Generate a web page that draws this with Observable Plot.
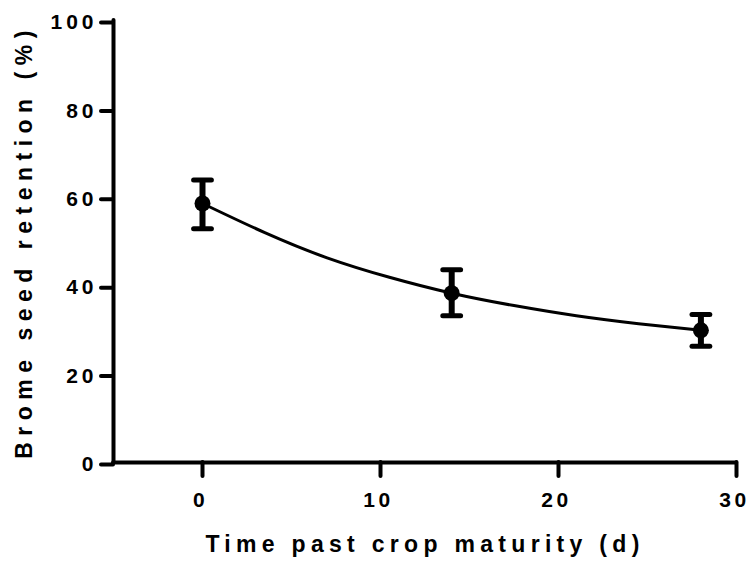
<!DOCTYPE html>
<html>
<head>
<meta charset="utf-8">
<script src="https://cdn.jsdelivr.net/npm/d3@7"></script>
<script src="https://cdn.jsdelivr.net/npm/@observablehq/plot@0.6"></script>
<style>
  html, body { margin: 0; padding: 0; background: white; }
</style>
</head>
<body>
<div id="chart"></div>
<script>
// Observed means and error bars
const days = [0, 14, 28];
const retention = [58.6, 38.3, 29.9];
const errLow = [52.9, 33.2, 26.3];
const errHigh = [63.9, 43.6, 33.5];

// Fitted decay curve
const curveDays = [0, 3.5, 7, 10.5, 14, 17.5, 21, 24.5, 28];
const curveRetention = [58.6, 52.0, 46.3, 41.9, 38.3, 35.5, 33.2, 31.4, 29.9];

const xTicks = [0, 10, 20, 30];
const yTicks = [0, 20, 40, 60, 80, 100];
const xLabel = "Time past crop maturity (d)";
const yLabel = "Brome seed retention (%)";

const pts = days.map((d, i) => ({x: d, y: retention[i], lo: errLow[i], hi: errHigh[i]}));
const fit = curveDays.map((d, i) => ({x: d, y: curveRetention[i]}));
const capHalf = 0.5;
const caps = pts.flatMap(p => [{x: p.x, y: p.lo}, {x: p.x, y: p.hi}]);

const chart = Plot.plot({
  width: 750,
  height: 565,
  marginLeft: 113,
  marginRight: 14,
  marginTop: 20,
  marginBottom: 103,
  x: {domain: [-5, 30]},
  y: {domain: [0, 100]},
  style: {fontFamily: "'Liberation Sans', Arial, sans-serif", color: "black", background: "white"},
  marks: [
    Plot.axisX({ticks: xTicks, tickSize: 14, strokeWidth: 4, strokeLinecap: "round", tickPadding: 16,
      fontSize: 21, fontWeight: "bold", label: null}),
    Plot.axisY({ticks: yTicks, tickSize: 12, strokeWidth: 4, strokeLinecap: "round", tickPadding: 4,
      fontSize: 21, fontWeight: "bold", label: null, dy: 2}),
    Plot.ruleY([0], {strokeWidth: 4, strokeLinecap: "round"}),
    Plot.ruleX([-5], {y1: 0, y2: 100, strokeWidth: 4, strokeLinecap: "round"}),
    Plot.line(fit, {x: "x", y: "y", curve: "natural", strokeWidth: 3}),
    Plot.ruleX(pts, {x: "x", y1: "lo", y2: "hi", strokeWidth: 6}),
    Plot.link(caps, {x1: d => d.x - capHalf, x2: d => d.x + capHalf, y1: "y", y2: "y", strokeWidth: 5, strokeLinecap: "round"}),
    Plot.dot(pts, {x: "x", y: "y", r: 8, fill: "black", stroke: "none"}),
    Plot.text([xLabel], {frameAnchor: "bottom", dy: 89, text: d => d, fontSize: 23, fontWeight: "bold"}),
    Plot.text([yLabel], {frameAnchor: "left", dx: -89, rotate: -90, textAnchor: "middle", text: d => d, fontSize: 23, fontWeight: "bold"})
  ]
});

document.getElementById("chart").appendChild(chart);
const svg = d3.select(chart);
svg.selectAll('g[aria-label="x-axis tick label"] text').style("letter-spacing", "3.5px").attr("dx", "-2");
svg.selectAll('g[aria-label="y-axis tick label"] text').style("letter-spacing", "4px");
svg.selectAll('g[aria-label="text"]').each(function(d, i) {
  d3.select(this).selectAll("text").style("letter-spacing", i === 0 ? "5.3px" : "6.5px");
});
</script>
</body>
</html>
